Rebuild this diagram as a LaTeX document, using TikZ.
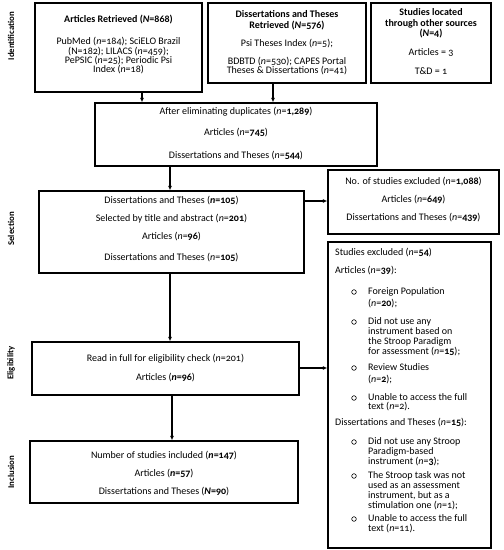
\documentclass[tikz,border=0pt]{standalone}
\usepackage{fontspec}
\setmainfont{Carlito}[Numbers=OldStyle]
\usetikzlibrary{arrows.meta}
\newcommand\vn{\textit{n}}
\newcommand\Lc[4]{\node[txt] (#1) at (#2,#3) {#4};}
\newcommand\Lw[4]{\node[txt,anchor=west] (#1) at (#2,#3) {#4};}
\begin{document}
\begin{tikzpicture}[x=1pt,y=-1pt,
  box/.style={draw, line width=1.3pt, inner sep=0pt},
  txt/.style={inner sep=0pt, text height=7pt, text depth=2.5pt, font=\fontsize{10}{11}\selectfont},
  phase/.style={inner sep=0pt, rotate=90, font=\fontsize{8.8}{10}\selectfont\bfseries},
  bul/.style={draw, circle, line width=0.6pt, inner sep=0pt, minimum size=4.6pt},
  arr/.style={-{Latex[length=4.5pt,width=4pt]}, line width=1.1pt}]
\fill[white] (0,0) rectangle (504,550);
\useasboundingbox (0,0) rectangle (504,550);

% boxes
\node[box, minimum width=167pt, minimum height=89pt] (b1) at (118.5,47.5) {};
\node[box, minimum width=158pt, minimum height=80pt] (b2) at (287,43) {};
\node[box, minimum width=120pt, minimum height=80pt] (b3) at (431,43) {};
\node[box, minimum width=282pt, minimum height=63pt] (b4) at (236,134.5) {};
\node[box, minimum width=265pt, minimum height=82pt] (b5) at (171.5,232) {};
\node[box, minimum width=171pt, minimum height=64pt] (b6) at (413.5,202) {};
\node[box, minimum width=163pt, minimum height=306pt] (b7) at (409.5,395) {};
\node[box, minimum width=267pt, minimum height=53pt] (b8) at (165.5,368.5) {};
\node[box, minimum width=268pt, minimum height=62pt] (b9) at (164,472) {};

% phase labels
\node[phase] (p1) at (11,36) {Identification};
\node[phase] (p2) at (11,229) {Selection};
\node[phase] (p3) at (11,363) {Eligibility};
\node[phase] (p4) at (11,472) {Inclusion};

% box 1
\Lc{t1a}{118.5}{20}{\textbf{Articles Retrieved (\textit{N}=868)}}
\Lc{t1b}{118.5}{42}{PubMed (\vn=184); SciELO Brazil}
\Lc{t1c}{118.5}{52}{(N=182); LILACS (\vn=459);}
\Lc{t1d}{118.5}{61}{PePSIC (\vn=25); Periodic Psi}
\Lc{t1e}{118.5}{70}{Index (\vn=18)}
% box 2
\Lc{t2a}{287}{15}{\textbf{Dissertations and Theses}}
\Lc{t2b}{287}{26}{\textbf{Retrieved (\textit{N}=576)}}
\Lc{t2c}{287}{44}{Psi Theses Index (\vn=5);}
\Lc{t2d}{287}{62}{BDBTD (\vn=530); CAPES Portal}
\Lc{t2e}{287}{71}{Theses \& Dissertations (\vn=41)}
% box 3
\Lc{t3a}{431}{13}{\textbf{Studies located}}
\Lc{t3b}{431}{24}{\textbf{through other sources}}
\Lc{t3c}{431}{34}{\textbf{(\textit{N}=4)}}
\Lc{t3d}{431}{53}{Articles = 3}
\Lc{t3e}{431}{72}{T\&D = 1}
% box 4
\Lc{t4a}{236}{112}{After eliminating duplicates (\vn=\textbf{1,289})}
\Lc{t4b}{236}{133}{Articles (\vn=\textbf{745})}
\Lc{t4c}{236}{156}{Dissertations and Theses (\vn=\textbf{544})}
% box 5
\Lc{t5a}{171.5}{201}{Dissertations and Theses (\textbf{\textit{n}=105})}
\Lc{t5b}{171.5}{219}{Selected by title and abstract (\vn=\textbf{201})}
\Lc{t5c}{171.5}{237}{Articles (\vn=\textbf{96})}
\Lc{t5d}{171.5}{258}{Dissertations and Theses (\vn=\textbf{105})}
% box 6
\Lc{t6a}{413.5}{182}{No. of studies excluded (\vn=\textbf{1,088})}
\Lc{t6b}{413.5}{200}{Articles (\vn=\textbf{649})}
\Lc{t6c}{413.5}{218}{Dissertations and Theses (\vn=\textbf{439})}
% box 7
\Lw{t7a}{335}{253}{Studies excluded (\vn=\textbf{54})}
\Lw{t7b}{335}{271}{Articles (\vn=\textbf{39}):}
\node[bul] (c1) at (354,292) {};
\Lw{t7c}{368}{292}{Foreign Population}
\Lw{t7d}{368}{304}{(\vn=\textbf{20});}
\node[bul] (c2) at (354,322) {};
\Lw{t7e}{368}{322}{Did not use any}
\Lw{t7f}{368}{332}{instrument based on}
\Lw{t7g}{368}{342}{the Stroop Paradigm}
\Lw{t7h}{368}{352}{for assessment (\vn=\textbf{15});}
\node[bul] (c3) at (354,368) {};
\Lw{t7i}{368}{368}{Review Studies}
\Lw{t7j}{368}{380}{(\vn=\textbf{2});}
\node[bul] (c4) at (354,398) {};
\Lw{t7k}{368}{398}{Unable to access the full}
\Lw{t7l}{368}{407}{text (\vn=2).}
\Lw{t7m}{335}{423}{Dissertations and Theses (\vn=\textbf{15}):}
\node[bul] (c5) at (354,442) {};
\Lw{t7n}{368}{442}{Did not use any Stroop}
\Lw{t7o}{368}{452}{Paradigm-based}
\Lw{t7p}{368}{462}{instrument (\vn=\textbf{3});}
\node[bul] (c6) at (354,476) {};
\Lw{t7q}{368}{476}{The Stroop task was not}
\Lw{t7r}{368}{486}{used as an assessment}
\Lw{t7s}{368}{496}{instrument, but as a}
\Lw{t7t}{368}{506}{stimulation one (\vn=1);}
\node[bul] (c7) at (354,519) {};
\Lw{t7u}{368}{519}{Unable to access the full}
\Lw{t7v}{368}{529}{text (\vn=11).}
% box 8
\Lc{t8a}{165.5}{359}{Read in full for eligibility check (\vn=201)}
\Lc{t8b}{165.5}{378}{Articles (\textbf{\textit{n}=96})}
% box 9
\Lc{t9a}{164}{456}{Number of studies included (\textbf{\textit{n}=147})}
\Lc{t9b}{164}{474}{Articles (\textbf{\textit{n}=57})}
\Lc{t9c}{164}{492}{Dissertations and Theses (\textbf{\textit{N}=90})}

% connectors
\draw[arr] (b1.south -| 142,0) -- (b4.north -| 142,0);
\draw[arr] (b2.south -| 273,0) -- (b4.north -| 273,0);
\draw[arr] (b4.south -| 170,0) -- (b5.north -| 170,0);
\draw[arr] (b5.east |- 0,201) -- (b6.west |- 0,201);
\draw[arr] (b5.south -| 170,0) -- (b8.north -| 170,0);
\draw[arr] (b8.east |- 0,368) -- (b7.west |- 0,368);
\draw[arr] (b8.south -| 172,0) -- (b9.north -| 172,0);
\end{tikzpicture}
\end{document}
